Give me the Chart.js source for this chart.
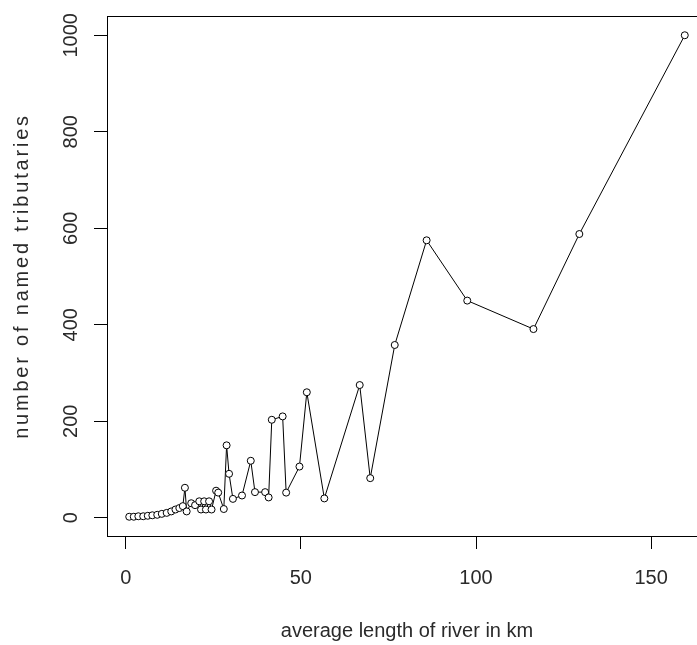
<!DOCTYPE html>
<html>
<head>
<meta charset="utf-8">
<script src="https://cdn.jsdelivr.net/npm/chart.js@4.4.1/dist/chart.umd.min.js"></script>
<style>
  html, body { margin: 0; padding: 0; background: #fff; overflow: hidden; }
  #wrap { width: 697px; height: 645px; overflow: hidden; }
</style>
</head>
<body>
<div id="wrap"><canvas id="chart" width="720" height="645"></canvas></div>
<script>
// average river length (km) and number of named tributaries
var RIVER_LENGTH_KM = [1.0, 2.3, 3.6, 5.0, 6.3, 7.6, 9.0, 10.3, 11.7, 13.0,
    14.2, 15.3, 16.3, 16.9, 17.4, 18.7, 19.8, 21.0, 21.5, 22.4,
    22.9, 23.8, 24.5, 25.8, 26.4, 28.0, 28.8, 29.5, 30.6, 33.2,
    35.7, 36.9, 39.8, 40.8, 41.7, 44.8, 45.8, 49.6, 51.7, 56.7,
    66.8, 69.8, 76.8, 85.9, 97.5, 116.4, 129.5, 159.6];
var TRIBUTARIES = [2, 2, 3, 3, 4, 5, 6, 8, 10, 13,
    17, 20, 24, 62, 13, 30, 26, 34, 17, 34,
    17, 34, 17, 56, 52, 18, 150, 91, 39, 46,
    118, 53, 53, 42, 203, 210, 52, 106, 260, 40,
    275, 82, 358, 575, 450, 391, 588, 1000];

var X_TICKS = [0, 50, 100, 150];
var Y_TICKS = [0, 200, 400, 600, 800, 1000];
var X_TITLE = 'average length of river in km';
var Y_TITLE = 'number of named tributaries';

var FONT = '20px "Liberation Sans", Arial, sans-serif';
var INK = '#2a2a2a';

// R-style range: data range widened by 4% each side
function rRange(arr) {
    var lo = Math.min.apply(null, arr);
    var hi = Math.max.apply(null, arr);
    var pad = (hi - lo) * 0.04;
    return { min: lo - pad, max: hi + pad };
}
var xr = rRange(RIVER_LENGTH_KM);
var yr = rRange(TRIBUTARIES);

var points = [];
for (var i = 0; i < RIVER_LENGTH_KM.length; i++) {
    points.push({ x: RIVER_LENGTH_KM[i], y: TRIBUTARIES[i] });
}

// box, tick labels and axis titles drawn the way base R places them
var rFrame = {
    id: 'rFrame',
    afterDraw: function (chart) {
        var ctx = chart.ctx;
        var a = chart.chartArea;
        var xs = chart.scales.x;
        var ys = chart.scales.y;
        ctx.save();
        ctx.strokeStyle = '#000';
        ctx.lineWidth = 1;
        ctx.strokeRect(Math.round(a.left) + 0.5, Math.round(a.top) + 0.5,
            Math.round(a.right - a.left), Math.round(a.bottom - a.top));

        ctx.fillStyle = INK;
        ctx.font = FONT;
        ctx.textAlign = 'center';
        ctx.textBaseline = 'middle';
        xs.ticks.forEach(function (t) {
            ctx.fillText(String(t.value), xs.getPixelForValue(t.value), 578);
        });
        ctx.fillText(X_TITLE, (a.left + a.right) / 2, 631);

        ys.ticks.forEach(function (t) {
            ctx.save();
            ctx.translate(71, ys.getPixelForValue(t.value));
            ctx.rotate(-Math.PI / 2);
            ctx.fillText(String(t.value), 0, 0);
            ctx.restore();
        });
        // rotated title in the original is set noticeably wider
        ctx.save();
        ctx.translate(22, (a.top + a.bottom) / 2);
        ctx.rotate(-Math.PI / 2);
        ctx.letterSpacing = '2.8px';
        ctx.fillText(Y_TITLE, 0, 0);
        ctx.restore();
        ctx.restore();
    }
};

new Chart(document.getElementById('chart').getContext('2d'), {
    type: 'line',
    data: {
        datasets: [{
            data: points,
            borderColor: '#000',
            borderWidth: 1,
            pointStyle: 'circle',
            pointRadius: 3.5,
            pointBorderWidth: 1,
            pointBorderColor: '#000',
            pointBackgroundColor: '#fff',
            tension: 0
        }]
    },
    options: {
        responsive: false,
        devicePixelRatio: 1,
        animation: false,
        layout: { autoPadding: false, padding: { top: 16, right: 13, left: 0, bottom: 0 } },
        plugins: { legend: { display: false }, tooltip: { enabled: false } },
        scales: {
            x: {
                type: 'linear',
                min: xr.min,
                max: xr.max,
                afterBuildTicks: function (s) {
                    s.ticks = X_TICKS.map(function (v) { return { value: v }; });
                },
                afterFit: function (s) { s.height = 109; },
                ticks: { display: false },
                grid: { drawOnChartArea: false, drawTicks: true, tickLength: 13, color: '#000', lineWidth: 1 },
                border: { display: true, color: '#000', width: 1 }
            },
            y: {
                type: 'linear',
                min: yr.min,
                max: yr.max,
                afterBuildTicks: function (s) {
                    s.ticks = Y_TICKS.map(function (v) { return { value: v }; });
                },
                afterFit: function (s) { s.width = 107; },
                ticks: { display: false },
                grid: { drawOnChartArea: false, drawTicks: true, tickLength: 13, color: '#000', lineWidth: 1 },
                border: { display: true, color: '#000', width: 1 }
            }
        }
    },
    plugins: [rFrame]
});
</script>
</body>
</html>
